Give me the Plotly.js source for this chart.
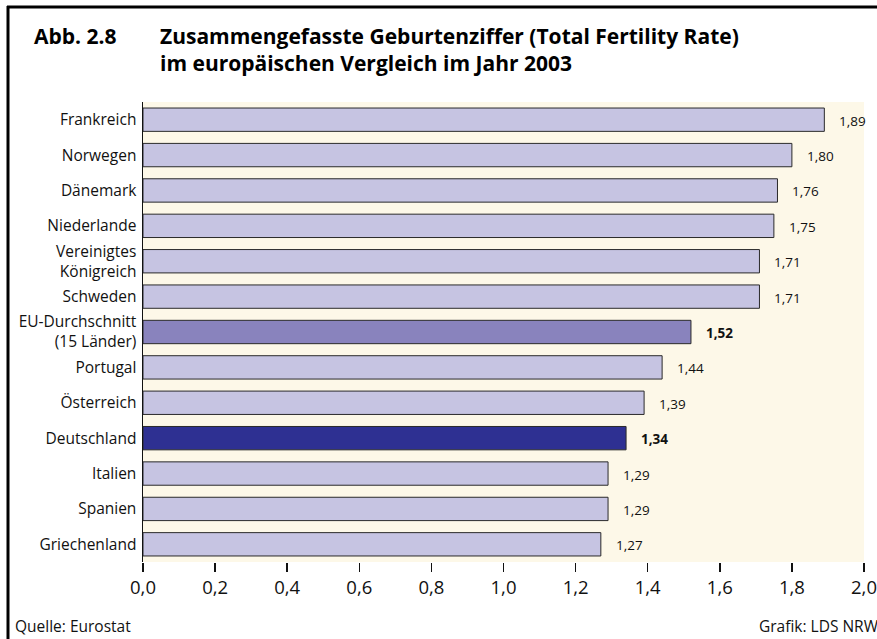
<!DOCTYPE html>
<html>
<head>
<meta charset="utf-8">
<script src="https://cdn.plot.ly/plotly-3.0.1.min.js"></script>
<style>html,body{margin:0;padding:0;background:#fff;}#chart{width:877px;height:639px;}</style>
</head>
<body>
<div id="chart"></div>
<script>
const categories = ["Frankreich","Norwegen","Dänemark","Niederlande","Vereinigtes<br>Königreich","Schweden","EU-Durchschnitt<br>(15 Länder)","Portugal","Österreich","Deutschland","Italien","Spanien","Griechenland"];
const values = [1.89,1.80,1.76,1.75,1.71,1.71,1.52,1.44,1.39,1.34,1.29,1.29,1.27];
const highlight = ["normal","normal","normal","normal","normal","normal","eu","normal","normal","de","normal","normal","normal"];
const xTicks = [0,0.2,0.4,0.6,0.8,1.0,1.2,1.4,1.6,1.8,2.0];
const xTickLabels = ["0,0","0,2","0,4","0,6","0,8","1,0","1,2","1,4","1,6","1,8","2,0"];

const colorMap = {normal:"#c6c4e2", eu:"#8983bd", de:"#2e3092"};
const FONT = "'Open Sans', 'DejaVu Sans', sans-serif";
const TFONT = "'Open Sans', 'DejaVu Sans', sans-serif";

const fmt = v => v.toFixed(2).replace(".", ",");

const trace = {
  type: "bar",
  orientation: "h",
  x: values,
  y: categories,
  width: 0.66,
  marker: {color: highlight.map(h => colorMap[h]), line: {color: "#2a2a2a", width: 1}},
  hoverinfo: "none"
};

const annotations = values.map((v, i) => ({
  x: v, y: categories[i], xref: "x", yref: "y",
  text: highlight[i] === "normal" ? fmt(v) : "<b>" + fmt(v) + "</b>",
  showarrow: false, xanchor: "left", yanchor: "middle", xshift: 13, yshift: -1,
  font: {family: FONT, size: 13.5, color: "#111"}
}));

const px = x => (x - 143) / 721;
const py = y => (562 - y) / 460;

annotations.push(
  {xref:"paper", yref:"paper", x: px(32), y: py(36), text:"<b>Abb. 2.8</b>", showarrow:false, xanchor:"left", yanchor:"middle", font:{family:TFONT, size:21, color:"#000"}},
  {xref:"paper", yref:"paper", x: px(158), y: py(49), align:"left",
   text:"<b>Zusammengefasste Geburtenziffer (Total Fertility Rate)<br>im europäischen Vergleich im Jahr 2003</b>",
   showarrow:false, xanchor:"left", yanchor:"middle", font:{family:TFONT, size:21, color:"#000"}},
  {xref:"paper", yref:"paper", x: px(13), y: py(626), text:"Quelle: Eurostat", showarrow:false, xanchor:"left", yanchor:"middle", font:{family:FONT, size:15.5, color:"#111"}},
  {xref:"paper", yref:"paper", x: px(881), y: py(626), text:"Grafik: LDS NRW", showarrow:false, xanchor:"right", yanchor:"middle", font:{family:FONT, size:15.5, color:"#111"}}
);

const layout = {
  width: 877, height: 639,
  margin: {l: 143, r: 13, t: 102, b: 77, pad: 0},
  paper_bgcolor: "#ffffff",
  plot_bgcolor: "#fdf8e8",
  showlegend: false,
  xaxis: {
    range: [0, 2.0], tickvals: xTicks, ticktext: xTickLabels,
    showgrid: false, zeroline: false, showline: false,
    ticks: "outside", ticklen: 9, tickwidth: 1.5, tickcolor: "#111",
    tickfont: {family: FONT, size: 18.5, color: "#111"}, fixedrange: true
  },
  yaxis: {
    autorange: "reversed", type: "category",
    showgrid: false, zeroline: false,
    showline: true, linecolor: "#111", linewidth: 1.5,
    ticks: "", ticklabelstandoff: 2,
    tickfont: {family: FONT, size: 15.5, color: "#111"}, fixedrange: true
  },
  annotations: annotations,
  shapes: [
    {type:"line", xref:"paper", yref:"paper", x0: px(7), x1: px(880), y0: py(7), y1: py(7), line:{color:"#000", width:3}},
    {type:"line", xref:"paper", yref:"paper", x0: px(8), x1: px(8), y0: py(6), y1: py(645), line:{color:"#000", width:3}}
  ]
};

Plotly.newPlot("chart", [trace], layout, {displayModeBar: false, staticPlot: true});
</script>
</body>
</html>
